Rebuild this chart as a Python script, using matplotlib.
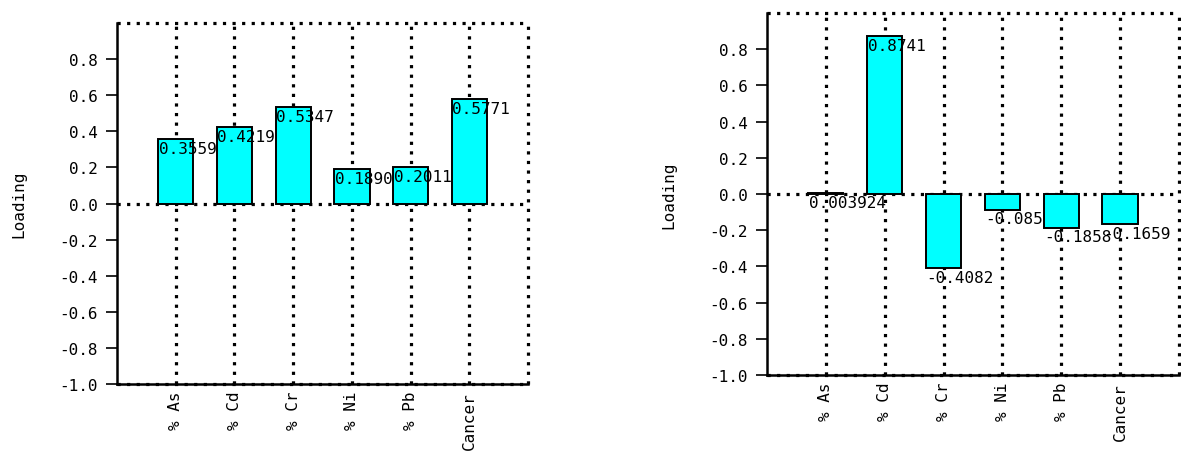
import matplotlib
matplotlib.use("Agg")
import matplotlib.pyplot as plt
import numpy as np

plt.rcParams['font.family'] = ['DejaVu Sans Mono', 'DejaVu Sans']
plt.rcParams['axes.unicode_minus'] = False

categories = ['% As', '% Cd', '% Cr', '% Ni', '% Pb', 'Cancer']
loadings_1 = [0.3559, 0.4219, 0.5347, 0.1890, 0.2011, 0.5771]
loadings_2 = [0.003924, 0.8741, -0.4082, -0.08593, -0.1858, -0.1659]
y_ticks = [-1.0, -0.8, -0.6, -0.4, -0.2, 0.0, 0.2, 0.4, 0.6, 0.8]

FS = 11.5
DOT = (0, (1, 2))


def fmt4(v):
    # 4 signifikante Stellen, Nullen behalten (0.1890)
    return np.format_float_positional(v, precision=4, unique=False, fractional=False, trim='k')


def loading_panel(ax, values):
    x = np.arange(1, len(categories) + 1)
    width = 0.6

    # Punktraster hinter den Balken
    for xv in list(x) + [len(categories) + 1]:
        ax.axvline(xv, color='black', linestyle=DOT, linewidth=2.3, zorder=1, clip_on=False)
    for yv in (-1.0, 0.0, 1.0):
        ax.axhline(yv, color='black', linestyle=DOT, linewidth=2.3, zorder=1, clip_on=False)

    # Balken und Beschriftung: nächster Balken verdeckt das vorherige Label
    for i, (xi, v) in enumerate(zip(x, values)):
        ax.bar(xi, v, width=width, color='#00ffff', edgecolor='black',
               linewidth=1.4, zorder=2 + 2 * i)
        ax.text(xi - width / 2 + 0.01, v - 0.01, fmt4(v), ha='left', va='top',
                fontsize=FS, zorder=3 + 2 * i, clip_on=False)

    ax.set_xlim(0, len(categories) + 1)
    ax.set_ylim(-1.0, 1.0)
    ax.set_yticks(y_ticks)
    ax.set_yticklabels([f"{t:.1f}" for t in y_ticks], fontsize=FS)
    ax.set_xticks(x)
    ax.set_xticklabels(categories, rotation=90, fontsize=FS, va='top')
    ax.tick_params(axis='x', length=0, pad=5)
    ax.tick_params(axis='y', length=8, width=1.2, pad=6)
    ax.set_ylabel('Loading', fontsize=FS)
    ax.yaxis.set_label_coords(-0.22, 0.5)

    ax.spines['top'].set_visible(False)
    ax.spines['right'].set_visible(False)
    ax.spines['left'].set_linewidth(1.8)
    ax.spines['bottom'].set_linewidth(1.8)


fig = plt.figure(figsize=(11.81, 4.6), dpi=100)
ax1 = fig.add_axes([0.0991, 0.1630, 0.3480, 0.7848])
ax2 = fig.add_axes([0.6494, 0.1826, 0.3489, 0.7870])

loading_panel(ax1, loadings_1)
loading_panel(ax2, loadings_2)

fig.savefig('out.png', dpi=100)
